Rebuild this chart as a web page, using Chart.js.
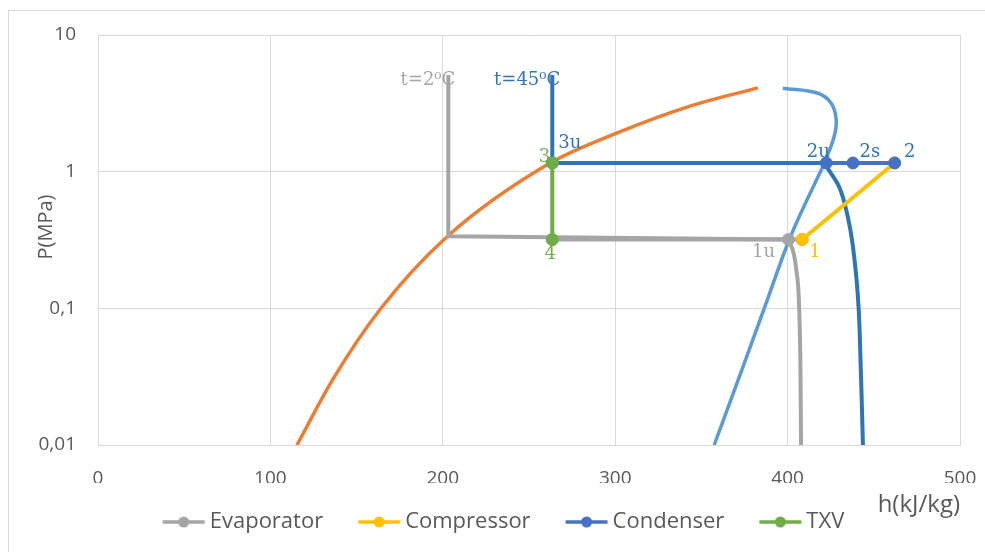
<!DOCTYPE html>
<html lang="en">
<head>
<meta charset="UTF-8">
<title>Diagrama P-h</title>
<style>
  body { margin: 0; background: #fff; }
  #wrap { width: 985px; height: 552px; }
</style>
</head>
<body>
<div id="wrap"><canvas id="grafico" width="985" height="552"></canvas></div>

<script src="https://cdn.jsdelivr.net/npm/chart.js@4.4.1/dist/chart.umd.min.js"></script>
<script>
// saturated liquid line (orange)
const liqH = [115.4, 136.3, 163.7, 202.0, 262.5, 301.5, 343.9, 382.8];
const liqP = [0.01, 0.0303, 0.0984, 0.33, 1.16, 1.93, 3.03, 4.10];

// saturated vapour line (light blue), lower and upper part
const vapH = [357.4, 373.0, 387.5, 401.0, 421.4];
const vapP = [0.01, 0.0341, 0.1087, 0.319, 1.158];
const vapTopH = [421.4, 427.0, 428.2, 425.3, 417.6, 397.2];
const vapTopP = [1.158, 1.81, 2.40, 3.17, 3.75, 4.08];

// isotherm t=2 C (gray)
const iso2H = [203.2, 203.2, 400.5];
const iso2P = [5.1, 0.337, 0.319];
const iso2TailH = [400.5, 405.0, 407.4, 407.8];
const iso2TailP = [0.319, 0.193, 0.0425, 0.01];

// isotherm t=45 C (dark blue)
const iso45H = [263.5, 263.5, 421.4];
const iso45P = [5.1, 1.158, 1.158];
const iso45TailH = [421.4, 433.0, 438.8, 441.7, 443.7];
const iso45TailP = [1.158, 0.591, 0.228, 0.0743, 0.01];

// cycle
const evapH = [263.5, 400.5, 408.4];
const evapP = [0.319, 0.319, 0.319];
const compH = [408.4, 462.1];
const compP = [0.319, 1.158];
const condH = [462.1, 437.9, 422.4, 263.5];
const condP = [1.158, 1.158, 1.158, 1.158];
const txvH = [263.5, 263.5];
const txvP = [1.158, 0.319];

const seriesNames = ['Evaporator', 'Compressor', 'Condenser', 'TXV'];

// point labels
const labelText = ['t=2\u2070C', 't=45\u2070C', '3u', '3', '4', '2u', '2s', '2', '1u', '1'];
const labelH = [203.2, 263.5, 263.5, 263.5, 263.5, 422.4, 437.9, 462.1, 400.5, 408.4];
const labelP = [5.1, 5.1, 1.158, 1.158, 0.319, 1.158, 1.158, 1.158, 0.319, 0.319];

const xTicks = [0, 100, 200, 300, 400, 500];
const yTicks = [0.01, 0.1, 1, 10];
const yTickLabels = ['0,01', '0,1', '1', '10'];

const xTitle = 'h(kJ/kg)';
const yTitle = 'P(MPa)';

const GRAY = '#A5A5A5', YELLOW = '#FFC000', BLUE = '#4472C4', GREEN = '#70AD47';
const ORANGE = '#ED7D31', LIGHTBLUE = '#5B9BD5', DARKBLUE = '#2E75B6';
const TEXT = '#595959';

function pts(h, p) {
  return h.map((v, i) => ({x: v, y: p[i]}));
}

// legend icon: line with a dot, shifted right so it sits near the text
function icono(color) {
  const c = document.createElement('canvas');
  c.width = 60; c.height = 12;
  const g = c.getContext('2d');
  g.strokeStyle = color;
  g.lineWidth = 3.5;
  g.beginPath(); g.moveTo(15.5, 6); g.lineTo(57.5, 6); g.stroke();
  g.fillStyle = color;
  g.beginPath(); g.arc(36.5, 6, 5.5, 0, Math.PI * 2); g.fill();
  return c;
}
const legendIcons = [icono(GRAY), icono(YELLOW), icono(BLUE), icono(GREEN)];

function serie(label, h, p, color, order, extra) {
  return Object.assign({
    label: label,
    data: pts(h, p),
    borderColor: color,
    backgroundColor: color,
    borderWidth: 4,
    pointRadius: 6,
    pointHoverRadius: 6,
    pointBorderWidth: 1,
    showLine: true,
    tension: 0,
    order: order
  }, extra || {});
}

function curva(label, h, p, color, order, width, extra) {
  return Object.assign({
    label: label,
    data: pts(h, p),
    borderColor: color,
    backgroundColor: color,
    borderWidth: width,
    pointRadius: 0,
    pointHoverRadius: 0,
    showLine: true,
    tension: 0,
    order: order
  }, extra || {});
}

const labelStyle = [
  {dx: 7, dy: 5, align: 'right', color: GRAY},
  {dx: 8, dy: 5, align: 'right', color: DARKBLUE},
  {dx: 6, dy: -20, align: 'left', color: DARKBLUE},
  {dx: -2, dy: -6, align: 'right', color: GREEN},
  {dx: -2, dy: 15, align: 'center', color: GREEN},
  {dx: -8, dy: -11, align: 'center', color: DARKBLUE},
  {dx: 17, dy: -11, align: 'center', color: DARKBLUE},
  {dx: 15, dy: -11, align: 'center', color: DARKBLUE},
  {dx: -25, dy: 13, align: 'center', color: GRAY},
  {dx: 13, dy: 13, align: 'center', color: YELLOW}
];

// texts over the plot and the axis titles
const textos = {
  id: 'textos',
  beforeDraw(chart) {
    const ctx = chart.ctx;
    ctx.save();
    ctx.strokeStyle = '#D9D9D9';
    ctx.lineWidth = 1;
    ctx.strokeRect(8.5, 10.5, 1000, 600);
    ctx.restore();
  },
  afterDatasetsDraw(chart) {
    const {ctx, scales: {x, y}} = chart;
    ctx.save();
    ctx.font = '18px "DejaVu Serif"';
    ctx.textBaseline = 'middle';
    for (let i = 0; i < labelText.length; i++) {
      const s = labelStyle[i];
      ctx.fillStyle = s.color;
      ctx.textAlign = s.align;
      ctx.fillText(labelText[i], x.getPixelForValue(labelH[i]) + s.dx, y.getPixelForValue(labelP[i]) + s.dy);
    }
    ctx.restore();
  },
  afterDraw(chart) {
    const {ctx, chartArea} = chart;
    ctx.save();
    ctx.fillStyle = TEXT;
    ctx.textBaseline = 'middle';
    ctx.font = '24px "Open Sans"';
    ctx.textAlign = 'right';
    ctx.fillText(xTitle, chartArea.right, 505);
    ctx.font = '20px "Open Sans"';
    ctx.translate(46, 227);
    ctx.rotate(-Math.PI / 2);
    ctx.textAlign = 'center';
    ctx.fillText(yTitle, 0, 0);
    ctx.restore();
  }
};

const ctx = document.getElementById('grafico').getContext('2d');

const grafico = new Chart(ctx, {
  type: 'scatter',
  data: {
    datasets: [
      serie(seriesNames[0], evapH, evapP, GRAY, 3),
      serie(seriesNames[1], compH, compP, YELLOW, 2),
      serie(seriesNames[2], condH, condP, BLUE, 1, {
        segment: {borderColor: c => c.p0DataIndex === 2 ? 'rgba(0,0,0,0)' : undefined}
      }),
      serie(seriesNames[3], txvH, txvP, GREEN, 0),
      curva('iso45', iso45H, iso45P, DARKBLUE, 4, 4),
      curva('iso45b', iso45TailH, iso45TailP, DARKBLUE, 4, 4, {cubicInterpolationMode: 'monotone'}),
      curva('iso2', iso2H, iso2P, GRAY, 5, 4),
      curva('iso2b', iso2TailH, iso2TailP, GRAY, 5, 4, {cubicInterpolationMode: 'monotone'}),
      curva('vap', vapH, vapP, LIGHTBLUE, 6, 3.5, {cubicInterpolationMode: 'monotone'}),
      curva('vapTop', vapTopH, vapTopP, LIGHTBLUE, 6, 3.5, {tension: 0.4}),
      curva('liq', liqH, liqP, ORANGE, 7, 3.5, {cubicInterpolationMode: 'monotone'})
    ]
  },
  options: {
    responsive: false,
    animation: false,
    layout: {padding: {top: 35, right: 0, left: 15, bottom: 9}},
    scales: {
      x: {
        type: 'linear',
        min: 0,
        max: 500,
        afterBuildTicks: s => { s.ticks = xTicks.map(v => ({value: v})); },
        afterFit: s => { s.height = 38; s.paddingRight = 25; s.paddingLeft = 0; },
        grid: {color: '#D9D9D9', lineWidth: 1, drawTicks: false},
        border: {color: '#D9D9D9'},
        ticks: {color: TEXT, font: {family: 'Open Sans', size: 19}, padding: 22}
      },
      y: {
        type: 'logarithmic',
        min: 0.01,
        max: 10,
        afterBuildTicks: s => { s.ticks = yTicks.map(v => ({value: v})); },
        afterFit: s => { s.width = 83; },
        grid: {color: '#D9D9D9', lineWidth: 1, drawTicks: false},
        border: {color: '#D9D9D9'},
        ticks: {
          color: TEXT,
          font: {family: 'Open Sans', size: 19},
          padding: 22,
          callback: (v) => {
            const i = yTicks.indexOf(v);
            return i >= 0 ? yTickLabels[i] : '';
          }
        }
      }
    },
    plugins: {
      tooltip: {enabled: false},
      legend: {
        position: 'bottom',
        labels: {
          color: TEXT,
          font: {family: 'Open Sans', size: 22},
          usePointStyle: true,
          pointStyleWidth: 43,
          padding: 28,
          filter: item => item.datasetIndex < 4,
          sort: (a, b) => a.datasetIndex - b.datasetIndex,
          generateLabels: chart => {
            const items = Chart.defaults.plugins.legend.labels.generateLabels(chart);
            items.forEach(it => {
              if (it.datasetIndex < 4) it.pointStyle = legendIcons[it.datasetIndex];
            });
            return items;
          }
        }
      }
    }
  },
  plugins: [textos]
});
</script>
</body>
</html>
